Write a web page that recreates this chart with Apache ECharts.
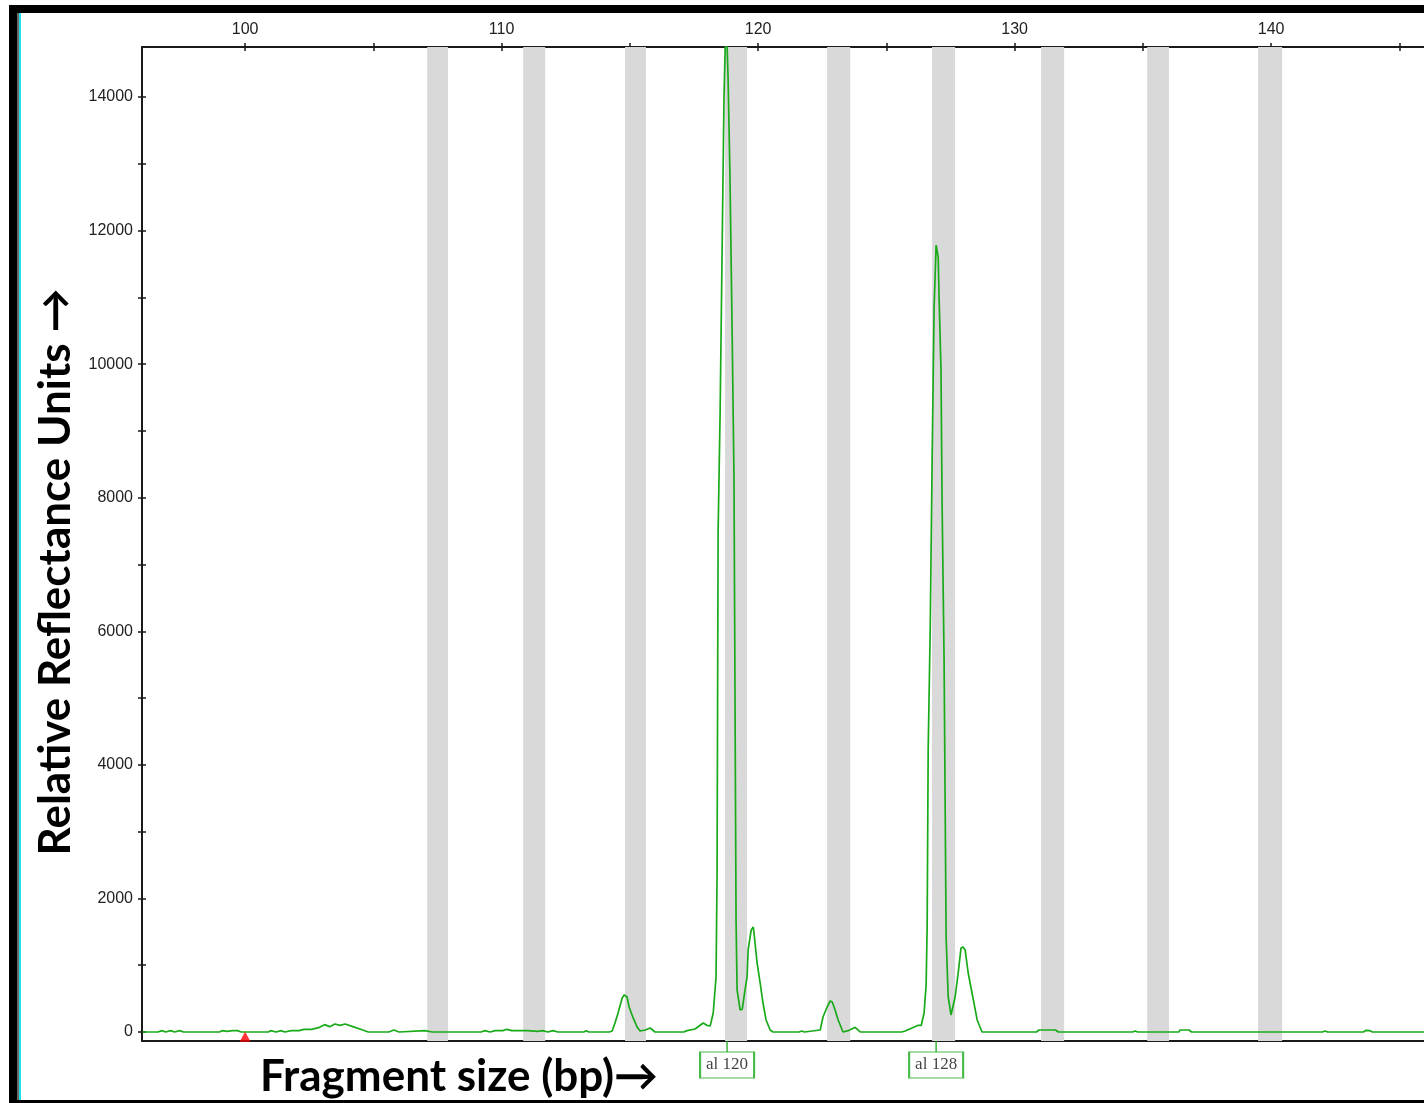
<!DOCTYPE html>
<html>
<head>
<meta charset="utf-8">
<title>Fragment size trace</title>
<script src="https://cdn.jsdelivr.net/npm/echarts@6/dist/echarts.min.js"></script>
<style>
html, body { margin: 0; padding: 0; background: #fff; }
#main { width: 1424px; height: 1103px; }
</style>
</head>
<body>
<div id="main"></div>
<script>
// 片段大小 (bp) 与 信号强度 (RFU)
var sizeBp = [
    96.00, 96.60, 96.75, 96.90, 97.10, 97.25, 97.45, 97.60, 99.00, 99.10,
    99.30, 99.50, 99.70, 99.85, 100.90, 101.00, 101.20, 101.40, 101.55, 101.80,
    102.10, 102.30, 102.60, 102.90, 103.10, 103.30, 103.50, 103.70, 103.90, 104.20,
    104.50, 104.80, 105.60, 105.80, 106.00, 107.00, 107.30, 108.00, 109.20, 109.35,
    109.55, 109.75, 110.05, 110.20, 110.40, 111.00, 111.40, 111.60, 111.80, 112.00,
    112.20, 113.20, 113.30, 113.40, 114.20, 114.31, 114.42, 114.54, 114.70, 114.78,
    114.89, 114.97, 115.13, 115.28, 115.40, 115.60, 115.79, 115.98, 116.90, 116.96,
    117.10, 117.23, 117.54, 117.70, 117.86, 118.00, 118.13, 118.25, 118.36, 118.40,
    118.44, 118.52, 118.60, 118.67, 118.75, 118.83, 118.90, 118.99, 119.06, 119.14,
    119.18, 119.30, 119.38, 119.49, 119.57, 119.61, 119.73, 119.81, 119.84, 119.96,
    120.08, 120.19, 120.31, 120.47, 120.58, 121.60, 121.70, 121.80, 122.11, 122.42,
    122.53, 122.69, 122.81, 122.89, 123.00, 123.12, 123.31, 123.51, 123.78, 123.98,
    125.60, 125.73, 126.00, 126.24, 126.36, 126.47, 126.55, 126.59, 126.63, 126.71,
    126.78, 126.86, 126.94, 127.02, 127.06, 127.13, 127.17, 127.25, 127.33, 127.41,
    127.52, 127.68, 127.80, 127.91, 127.99, 128.07, 128.19, 128.34, 128.54, 128.73,
    130.85, 130.95, 131.60, 131.70, 134.60, 134.70, 134.80, 136.40, 136.45, 136.80,
    136.90, 138.00, 138.05, 138.15, 140.80, 140.85, 140.95, 142.00, 142.10, 142.20,
    143.60, 143.70, 143.85, 143.95, 144.40, 144.45, 144.55, 146.00
];
var signal = [
    0, 0, 20, 0, 20, 0, 20, 0, 0, 20,
    10, 20, 20, 0, 0, 20, 0, 20, 0, 20,
    20, 40, 40, 70, 110, 80, 120, 100, 120, 80,
    40, 0, 0, 30, 0, 20, 0, 0, 0, 20,
    0, 20, 20, 40, 20, 20, 10, 20, 0, 20,
    0, 0, 20, 0, 0, 15, 135, 284, 509, 554,
    524, 374, 210, 75, 15, 30, 60, 0, 0, 20,
    0, 20, 45, 90, 135, 100, 90, 284, 823, 2396,
    7471, 9313, 11828, 13984, 15300, 14254, 12877, 10406, 8265, 1677,
    629, 329, 340, 629, 823, 1228, 1527, 1572, 1482, 1033,
    733, 434, 180, 30, 0, 0, 15, 0, 15, 30,
    225, 374, 464, 449, 329, 180, 0, 20, 70, 0,
    0, 15, 60, 100, 100, 284, 704, 1572, 4222, 6049,
    8444, 10840, 11783, 11603, 10915, 9912, 7995, 5570, 1407, 524,
    255, 524, 883, 1258, 1273, 1228, 883, 584, 180, 0,
    0, 30, 30, 0, 0, 15, 0, 0, 30, 30,
    0, 0, 15, 0, 0, 15, 0, 0, 15, 0,
    0, 25, 20, 0, 0, 15, 0, 0
];
// 灰色 bin 区间 (bp)
var binStart = [107.10, 110.84, 114.81, 118.71, 122.69, 126.78, 131.03, 135.17, 139.49];
var binEnd   = [107.91, 111.70, 115.63, 119.57, 123.59, 127.68, 131.93, 136.02, 140.43];
// 等位基因标记
var alleleSizes = [118.79, 126.94];
var alleleNames = ['al 120', 'al 128'];
// 内部标准 (红色三角)
var standardSizes = [100];
// 刻度
var xTicks = [100, 105, 110, 115, 120, 125, 130, 135, 140, 145];
var xLabels = [100, 110, 120, 130, 140];
var yTicks = [0, 1000, 2000, 3000, 4000, 5000, 6000, 7000, 8000, 9000, 10000, 11000, 12000, 13000, 14000];
var yLabels = [0, 2000, 4000, 6000, 8000, 10000, 12000, 14000];

var xMin = 95.98, xMax = 145.96;
var yMin = -135, yMax = 14748;
var green = '#19aa19';
var axisColor = '#1a1a1a';
var tickFont = 'Liberation Sans';

var trace = sizeBp.map(function (s, i) { return [s, signal[i]]; });
var bins = binStart.map(function (s, i) { return [{ xAxis: s }, { xAxis: binEnd[i] }]; });

function plain(v) { return String(v); }

function xAxisBase(extra) {
    var a = {
        type: 'value', min: xMin, max: xMax,
        splitLine: { show: false },
        axisLine: { show: false, onZero: false },
        axisTick: { show: false },
        axisLabel: { show: false }
    };
    return Object.assign(a, extra);
}
function yAxisBase(extra) {
    var a = {
        type: 'value', min: yMin, max: yMax,
        splitLine: { show: false },
        axisLine: { show: false, onZero: false },
        axisTick: { show: false },
        axisLabel: { show: false }
    };
    return Object.assign(a, extra);
}

var chart = echarts.init(document.getElementById('main'));
var option = {
    animation: false,
    grid: { left: 142, top: 47, right: 0, bottom: 62 },
    xAxis: [
        xAxisBase({
            position: 'top',
            axisLine: { show: true, onZero: false, lineStyle: { color: axisColor, width: 2 } },
            axisTick: { show: true, length: 4, customValues: xTicks, lineStyle: { color: axisColor, width: 1.5 } },
            axisLabel: { show: true, customValues: xLabels, formatter: plain, margin: 9, color: '#222', fontFamily: tickFont, fontSize: 16 }
        }),
        xAxisBase({
            position: 'top',
            axisTick: { show: true, inside: true, length: 4, customValues: xTicks, lineStyle: { color: axisColor, width: 1.5 } }
        }),
        xAxisBase({
            position: 'bottom',
            axisLine: { show: true, onZero: false, lineStyle: { color: axisColor, width: 2 } }
        })
    ],
    yAxis: [
        yAxisBase({
            position: 'left',
            axisLine: { show: true, onZero: false, lineStyle: { color: axisColor, width: 2 } },
            axisTick: { show: true, length: 4, customValues: yTicks, lineStyle: { color: axisColor, width: 1.5 } },
            axisLabel: { show: true, customValues: yLabels, formatter: plain, margin: 9, color: '#222', fontFamily: tickFont, fontSize: 16 }
        }),
        yAxisBase({
            position: 'left',
            axisTick: { show: true, inside: true, length: 4, customValues: yTicks, lineStyle: { color: axisColor, width: 1.5 } }
        })
    ],
    series: [
        {
            // 灰色区间
            type: 'line', data: [], z: 1, silent: true,
            markArea: { silent: true, itemStyle: { color: '#d9d9d9' }, data: bins }
        },
        {
            type: 'line', data: trace, z: 3,
            showSymbol: false, silent: true,
            lineStyle: { color: green, width: 1.7 }
        },
        {
            type: 'scatter', z: 5, silent: true,
            data: standardSizes.map(function (s) { return [s, -72]; }),
            symbol: 'triangle', symbolSize: [11, 10],
            itemStyle: { color: '#ff0000' }
        },
        {
            // 等位基因标签的短线
            type: 'scatter', z: 5, silent: true, clip: false,
            data: alleleSizes.map(function (s) { return [s, -217]; }),
            symbol: 'rect', symbolSize: [1.6, 11],
            itemStyle: { color: green }
        },
        {
            type: 'scatter', z: 5, silent: true, clip: false,
            data: alleleSizes.map(function (s, i) { return { name: alleleNames[i], value: [s, -494] }; }),
            symbol: 'rect', symbolSize: [54, 26],
            itemStyle: { color: '#fff', borderColor: green, borderWidth: 1.5 },
            label: {
                show: true, position: 'inside', formatter: '{b}',
                color: '#111', fontFamily: 'Liberation Serif', fontSize: 17
            }
        }
    ],
    graphic: [
        { type: 'rect', shape: { x: 9, y: 5, width: 1415, height: 8 }, style: { fill: '#000' } },
        { type: 'rect', shape: { x: 9, y: 5, width: 8, height: 1098 }, style: { fill: '#000' } },
        { type: 'rect', shape: { x: 17, y: 13, width: 2, height: 1088 }, style: { fill: '#6e6a60' } },
        { type: 'rect', shape: { x: 19, y: 13, width: 2, height: 1088 }, style: { fill: '#1ee3ef' } },
        { type: 'rect', shape: { x: 9, y: 1100, width: 1415, height: 3 }, style: { fill: '#000' } },
        {
            type: 'text', x: 56, y: 572, rotation: Math.PI / 2,
            style: {
                text: 'Relative Reflectance Units \u2192', fill: '#000',
                font: 'bold 44px Lato, "DejaVu Sans"',
                textAlign: 'center', textVerticalAlign: 'middle',
                align: 'center', verticalAlign: 'middle'
            }
        },
        {
            type: 'text', x: 260, y: 1077,
            style: {
                text: 'Fragment size (bp)\u2192', fill: '#000',
                font: 'bold 44px Lato, "DejaVu Sans"',
                textAlign: 'left', textVerticalAlign: 'middle',
                align: 'left', verticalAlign: 'middle'
            }
        }
    ]
};
chart.setOption(option);
</script>
</body>
</html>
